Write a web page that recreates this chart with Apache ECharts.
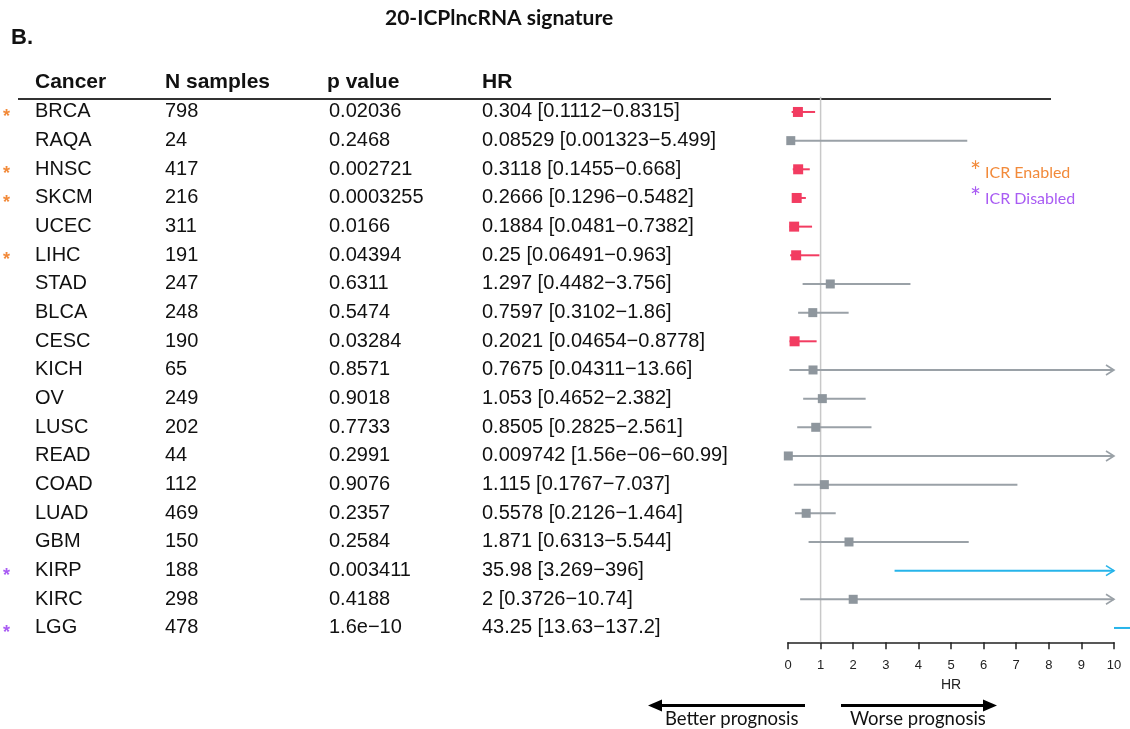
<!DOCTYPE html>
<html lang="en" style="height: 100%">
<head>
  <meta charset="utf-8">
</head>
<body style="height: 100%; margin: 0">
  <div id="container" style="height: 100%"></div>
  <script type="text/javascript" src="https://fastly.jsdelivr.net/npm/echarts@6.0.0/dist/echarts.min.js"></script>
  <script type="text/javascript">
    // table rows, top to bottom
    var cancers = ['BRCA', 'RAQA', 'HNSC', 'SKCM', 'UCEC', 'LIHC', 'STAD', 'BLCA', 'CESC', 'KICH',
      'OV', 'LUSC', 'READ', 'COAD', 'LUAD', 'GBM', 'KIRP', 'KIRC', 'LGG'];
    var nSamples = [798, 24, 417, 216, 311, 191, 247, 248, 190, 65, 249, 202, 44, 112, 469, 150, 188, 298, 478];
    var pValues = ['0.02036', '0.2468', '0.002721', '0.0003255', '0.0166', '0.04394', '0.6311', '0.5474',
      '0.03284', '0.8571', '0.9018', '0.7733', '0.2991', '0.9076', '0.2357', '0.2584', '0.003411', '0.4188', '1.6e\u221210'];
    var hr = [0.304, 0.08529, 0.3118, 0.2666, 0.1884, 0.25, 1.297, 0.7597, 0.2021, 0.7675, 1.053, 0.8505,
      0.009742, 1.115, 0.5578, 1.871, 35.98, 2, 43.25];
    var hrLower = [0.1112, 0.001323, 0.1455, 0.1296, 0.0481, 0.06491, 0.4482, 0.3102, 0.04654, 0.04311,
      0.4652, 0.2825, 1.56e-06, 0.1767, 0.2126, 0.6313, 3.269, 0.3726, 13.63];
    var hrUpper = [0.8315, 5.499, 0.668, 0.5482, 0.7382, 0.963, 3.756, 1.86, 0.8778, 13.66, 2.382, 2.561,
      60.99, 7.037, 1.464, 5.544, 396, 10.74, 137.2];
    var hrLabels = ['0.304 [0.1112\u22120.8315]', '0.08529 [0.001323\u22125.499]', '0.3118 [0.1455\u22120.668]',
      '0.2666 [0.1296\u22120.5482]', '0.1884 [0.0481\u22120.7382]', '0.25 [0.06491\u22120.963]',
      '1.297 [0.4482\u22123.756]', '0.7597 [0.3102\u22121.86]', '0.2021 [0.04654\u22120.8778]',
      '0.7675 [0.04311\u221213.66]', '1.053 [0.4652\u22122.382]', '0.8505 [0.2825\u22122.561]',
      '0.009742 [1.56e\u221206\u221260.99]', '1.115 [0.1767\u22127.037]', '0.5578 [0.2126\u22121.464]',
      '1.871 [0.6313\u22125.544]', '35.98 [3.269\u2212396]', '2 [0.3726\u221210.74]', '43.25 [13.63\u2212137.2]'];
    // ICR status marks: 1 enabled, 2 disabled
    var icrMark = [1, 0, 1, 1, 0, 1, 0, 0, 0, 0, 0, 0, 0, 0, 0, 0, 2, 0, 2];
    var xTicks = [0, 1, 2, 3, 4, 5, 6, 7, 8, 9, 10];

    var FONT = '"Liberation Sans", Arial, sans-serif';
    var RED = '#f23c61', GREY = '#8e969d', GREY_LINE = '#9aa1a7', CYAN = '#26b4ea';
    var ORANGE = '#f28a3a', PURPLE = '#a95cf3';
    var XMAX = xTicks[xTicks.length - 1];

    var dom = document.getElementById('container');
    var myChart = echarts.init(dom, null, { renderer: 'canvas' });

    function rowColor(i) {
      var p = parseFloat(pValues[i].replace('\u2212', '-'));
      if (p < 0.05) return hr[i] < 1 ? RED : CYAN;
      return GREY;
    }

    var forestData = cancers.map(function (c, i) {
      return [hr[i], i, hrLower[i], hrUpper[i]];
    });
    var rowData = cancers.map(function (c, i) { return [0, i]; });

    function renderForest(params, api) {
      var i = api.value(1);
      var h = api.value(0), lo = api.value(2), hi = api.value(3);
      var color = rowColor(i);
      var lineColor = color === GREY ? GREY_LINE : color;
      var y = api.coord([0, i])[1];
      var xMax = api.coord([XMAX, i])[0];
      var children = [];
      var x1, x2;
      if (lo > XMAX) {
        x1 = xMax; x2 = xMax + 20;
      } else {
        x1 = api.coord([lo, i])[0];
        x2 = api.coord([Math.min(hi, XMAX), i])[0];
      }
      children.push({
        type: 'line',
        shape: { x1: x1, y1: y, x2: x2, y2: y },
        style: { stroke: lineColor, lineWidth: 2 }
      });
      if (hi > XMAX && lo <= XMAX) {
        children.push({
          type: 'polyline',
          shape: { points: [[xMax - 8, y - 5], [xMax, y], [xMax - 8, y + 5]] },
          style: { stroke: lineColor, lineWidth: 1.6, fill: null }
        });
      }
      if (h <= XMAX) {
        var cx = api.coord([h, i])[0];
        var s = color === RED ? 10 : 9;
        children.push({
          type: 'rect',
          shape: { x: cx - s / 2, y: y - s / 2, width: s, height: s },
          style: { fill: color === GREY ? GREY : color }
        });
      }
      return { type: 'group', children: children };
    }

    function renderRow(params, api) {
      var i = api.value(1);
      var y = api.coord([0, i])[1];
      var txt = function (x, s) {
        return {
          type: 'text', x: x, y: y,
          style: { text: s, fill: '#111', font: '20px ' + FONT, verticalAlign: 'middle', align: 'left' }
        };
      };
      var children = [
        txt(35, cancers[i]),
        txt(165, String(nSamples[i])),
        txt(329, pValues[i]),
        txt(482, hrLabels[i])
      ];
      if (icrMark[i]) {
        children.push({
          type: 'text', x: 3, y: y + 5,
          style: { text: '*', fill: icrMark[i] === 1 ? ORANGE : PURPLE, font: 'bold 18px ' + FONT,
            verticalAlign: 'middle', align: 'left' }
        });
      }
      return { type: 'group', children: children };
    }

    function renderRefLine(params, api) {
      var p1 = api.coord([1, -0.53]);
      var p2 = api.coord([1, cancers.length - 0.5]);
      return {
        type: 'line',
        shape: { x1: p1[0], y1: p1[1], x2: p2[0], y2: p2[1] },
        style: { stroke: '#c8c8c8', lineWidth: 1.5 }
      };
    }

    var headerY = 82;
    var option = {
      animation: false,
      backgroundColor: '#fff',
      grid: { left: 788, right: 16, top: 83.3, bottom: 86.7 },
      xAxis: {
        type: 'value', min: 0, max: XMAX, interval: 1, position: 'bottom',
        name: 'HR', nameLocation: 'middle', nameGap: 36,
        nameTextStyle: { fontFamily: FONT, fontSize: 14, color: '#222' },
        axisLine: { show: true, onZero: false, lineStyle: { color: '#222', width: 1.5 } },
        axisTick: { show: true, length: 7, lineStyle: { color: '#222', width: 1.5 } },
        axisLabel: { fontFamily: FONT, fontSize: 13, color: '#222', margin: 17 },
        splitLine: { show: false }
      },
      yAxis: {
        type: 'value', inverse: true, min: -1, max: cancers.length - 0.5, show: false
      },
      graphic: [
        { type: 'text', left: 385, top: 8,
          style: { text: '20-ICPlncRNA signature', font: 'bold 21px Lato, "Open Sans", sans-serif', fill: '#111' } },
        { type: 'text', left: 11, top: 27, style: { text: 'B.', font: 'bold 22px ' + FONT, fill: '#111' } },
        { type: 'text', x: 35, y: headerY, style: { text: 'Cancer', font: 'bold 21px ' + FONT, fill: '#111', verticalAlign: 'middle' } },
        { type: 'text', x: 165, y: headerY, style: { text: 'N samples', font: 'bold 21px ' + FONT, fill: '#111', verticalAlign: 'middle' } },
        { type: 'text', x: 327, y: headerY, style: { text: 'p value', font: 'bold 21px ' + FONT, fill: '#111', verticalAlign: 'middle' } },
        { type: 'text', x: 482, y: headerY, style: { text: 'HR', font: 'bold 21px ' + FONT, fill: '#111', verticalAlign: 'middle' } },
        { type: 'line', shape: { x1: 18, y1: 99, x2: 1051, y2: 99 }, style: { stroke: '#333', lineWidth: 2 } },
        { type: 'text', x: 970, y: 173, style: { text: '*', font: '26px Lato, sans-serif', fill: ORANGE, verticalAlign: 'middle' } },
        { type: 'text', x: 985, y: 173, style: { text: 'ICR Enabled', font: '16px Lato, sans-serif', fill: ORANGE, verticalAlign: 'middle' } },
        { type: 'text', x: 970, y: 199, style: { text: '*', font: '26px Lato, sans-serif', fill: PURPLE, verticalAlign: 'middle' } },
        { type: 'text', x: 985, y: 199, style: { text: 'ICR Disabled', font: '16px Lato, sans-serif', fill: PURPLE, verticalAlign: 'middle' } },
        // prognosis arrows
        { type: 'line', shape: { x1: 805, y1: 705.5, x2: 660, y2: 705.5 }, style: { stroke: '#000', lineWidth: 3 } },
        { type: 'polygon', shape: { points: [[648, 705.5], [662, 699.5], [662, 711.5]] }, style: { fill: '#000' } },
        { type: 'line', shape: { x1: 841, y1: 705.5, x2: 985, y2: 705.5 }, style: { stroke: '#000', lineWidth: 3 } },
        { type: 'polygon', shape: { points: [[997, 705.5], [983, 699.5], [983, 711.5]] }, style: { fill: '#000' } },
        { type: 'text', x: 665, y: 719, style: { text: 'Better prognosis', font: '18.5px Lato, sans-serif', fill: '#111', verticalAlign: 'middle' } },
        { type: 'text', x: 850, y: 719, style: { text: 'Worse prognosis', font: '18.5px Lato, sans-serif', fill: '#111', verticalAlign: 'middle' } }
      ],
      series: [
        {
          type: 'custom', name: 'ref', clip: false, z: 1,
          renderItem: renderRefLine, data: [[1, 0]]
        },
        {
          type: 'custom', name: 'forest', clip: false, z: 3,
          renderItem: renderForest, data: forestData
        },
        {
          type: 'custom', name: 'table', clip: false, z: 3,
          renderItem: renderRow, data: rowData
        }
      ]
    };

    myChart.setOption(option);
    window.addEventListener('resize', myChart.resize);
  </script>
</body>
</html>
